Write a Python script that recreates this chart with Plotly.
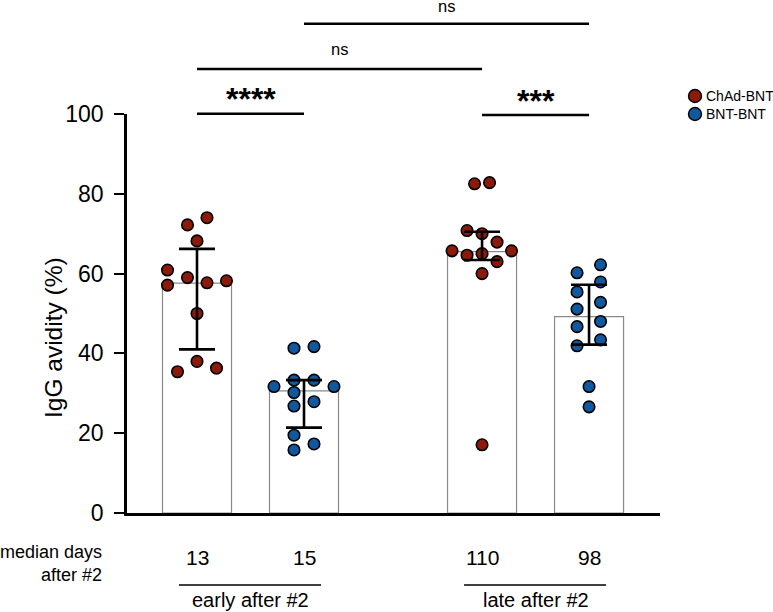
import plotly.graph_objects as go

# ---------------- data ----------------
groups = ["ChAd-BNT early", "BNT-BNT early", "ChAd-BNT late", "BNT-BNT late"]
cohorts = ["ChAd-BNT", "BNT-BNT", "ChAd-BNT", "BNT-BNT"]
medians = [57.6, 30.6, 65.5, 49.2]
q_upper = [66.2, 33.3, 70.5, 57.2]
q_lower = [41.0, 21.4, 63.4, 42.2]

chad_early = [74.0, 72.2, 68.2, 60.9, 57.1, 59.0, 57.7, 58.2, 50.0, 38.0, 35.4, 36.3]
bnt_early = [41.3, 41.7, 31.7, 33.3, 33.3, 31.7, 30.2, 26.8, 27.9, 19.5, 15.8, 17.3]
chad_late = [82.5, 82.8, 70.8, 70.0, 67.9, 65.7, 64.6, 65.0, 65.7, 63.0, 60.0, 17.1]
bnt_late = [62.2, 60.2, 57.9, 55.4, 52.8, 51.1, 48.0, 46.7, 43.4, 41.9, 31.7, 26.6]
values = [chad_early, bnt_early, chad_late, bnt_late]

median_days = ["13", "15", "110", "98"]
period_labels = ["early after #2", "late after #2"]
sig_labels = ["****", "***", "ns", "ns"]
y_ticks = [0, 20, 40, 60, 80, 100]

# ---------------- layout / style ----------------
W, H = 773, 612
L, R, T, B = 127, 660, 114, 513          # plot area in pixels
UNIT = 107.0                              # pixels per x unit
positions = [0.0, 1.0, 2.664, 3.664]
bar_width = 0.645
x_range = [-(197 - L) / UNIT, (R - 197) / UNIT]

# swarm offsets in pixels (layout of the dots inside each column)
swarm_px = [
    [10, -9.5, 0, -29.5, -29.5, -9.5, 10, 29.5, 0, 0, -19.5, 19.5],
    [-10, 10, -30, -10, 10, 30, -10, -10, 10, -10, -10, 10],
    [-7.5, 7.5, -15, 0, 15, -30, -15, 0, 29.5, 15, 0, 0],
    [11.5, -12, 11.5, -12, 11.5, -12, 11.5, -12, 11.5, -12, 0, 0],
]

colors = {"ChAd-BNT": "#8C1A0B", "BNT-BNT": "#11599F"}
FONT = "Liberation Sans, Arial, Helvetica, sans-serif"


def py(p):
    return (B - p) / (B - T)


def pxp(p):
    return (p - L) / (R - L)


fig = go.Figure()

fig.add_trace(go.Bar(
    x=positions, y=medians, width=bar_width,
    marker=dict(color="white", line=dict(color="#8a8a8a", width=1.2)),
    hoverinfo="skip", showlegend=False,
))

for i, vals in enumerate(values):
    xs = [positions[i] + o / UNIT for o in swarm_px[i]]
    fig.add_trace(go.Scatter(
        x=xs, y=vals, mode="markers", cliponaxis=False, showlegend=False,
        marker=dict(size=11.5, color=colors[cohorts[i]],
                    line=dict(color="black", width=1.6)),
        name=groups[i],
    ))

# error bars (median with IQR) drawn above the dots
fig.add_trace(go.Scatter(
    x=positions, y=medians, mode="markers", showlegend=False,
    marker=dict(size=0.1, color="rgba(0,0,0,0)"), hoverinfo="skip",
    error_y=dict(type="data", symmetric=False,
                 array=[u - m for u, m in zip(q_upper, medians)],
                 arrayminus=[m - l for l, m in zip(q_lower, medians)],
                 color="black", thickness=2.6, width=18),
))

shapes = []
annotations = []

# significance brackets: (from, to, line pixel y, text pixel y, label, size, bold)
brackets = [
    (0, 1, 113.7, 99, sig_labels[0], 32, True),
    (2, 3, 115.0, 101, sig_labels[1], 32, True),
    (0, 2, 69.0, 49, sig_labels[2], 16.5, False),
    (1, 3, 23.7, 6, sig_labels[3], 16.5, False),
]
for a, b, ly, ty, lab, fs, bold in brackets:
    shapes.append(dict(type="line", xref="x", yref="paper",
                       x0=positions[a], x1=positions[b], y0=py(ly), y1=py(ly),
                       line=dict(color="black", width=2.6)))
    annotations.append(dict(xref="x", yref="paper",
                            x=(positions[a] + positions[b]) / 2, y=py(ty),
                            text=f"<b>{lab}</b>" if bold else lab,
                            showarrow=False, xanchor="center", yanchor="middle",
                            font=dict(size=fs, color="black", family=FONT)))

# median days row
annotations.append(dict(xref="paper", yref="paper", x=pxp(104), y=py(563),
                        text="median days<br>after #2", showarrow=False,
                        xanchor="right", yanchor="middle", align="right",
                        font=dict(size=18, color="black", family=FONT)))
for i, d in enumerate(median_days):
    annotations.append(dict(xref="x", yref="paper", x=positions[i], y=py(557),
                            text=d, showarrow=False, xanchor="center",
                            yanchor="middle",
                            font=dict(size=21, color="black", family=FONT)))

# period underlines + labels
for k, lab in enumerate(period_labels):
    a, b = positions[2 * k], positions[2 * k + 1]
    shapes.append(dict(type="line", xref="x", yref="paper",
                       x0=a - 18 / UNIT, x1=b + 17 / UNIT, y0=py(585), y1=py(585),
                       line=dict(color="black", width=1.6)))
    annotations.append(dict(xref="x", yref="paper", x=(a + b) / 2, y=py(600),
                            text=lab, showarrow=False, xanchor="center",
                            yanchor="middle",
                            font=dict(size=20, color="black", family=FONT)))

# y axis title
annotations.append(dict(xref="paper", yref="paper", x=pxp(53), y=py(338),
                        text="IgG avidity (%)", textangle=-90, showarrow=False,
                        xanchor="center", yanchor="middle",
                        font=dict(size=24.5, color="black", family=FONT)))

# legend (manual)
for j, (name, ly) in enumerate([("ChAd-BNT", 96), ("BNT-BNT", 114)]):
    shapes.append(dict(type="circle", xref="paper", yref="paper",
                       xsizemode="pixel", ysizemode="pixel",
                       xanchor=pxp(695), yanchor=py(ly),
                       x0=-6.5, x1=6.5, y0=-6.5, y1=6.5,
                       fillcolor=colors[name], line=dict(color="black", width=1.4)))
    annotations.append(dict(xref="paper", yref="paper", x=pxp(704), y=py(ly),
                            text=name, showarrow=False, xanchor="left",
                            yanchor="middle",
                            font=dict(size=14, color="black", family=FONT)))

fig.update_layout(
    width=W, height=H,
    margin=dict(l=L, r=W - R, t=T, b=H - B, pad=0),
    plot_bgcolor="white", paper_bgcolor="white",
    font=dict(family=FONT, color="black"),
    showlegend=False,
    shapes=shapes, annotations=annotations,
    xaxis=dict(range=x_range, showline=True, linecolor="black", linewidth=2.6,
               showticklabels=False, ticks="", showgrid=False, zeroline=False,
               fixedrange=True),
    yaxis=dict(range=[0, 100], tickvals=y_ticks, showline=True,
               linecolor="black", linewidth=2.6, ticks="outside", ticklen=10,
               tickwidth=2, tickcolor="black", showgrid=False, zeroline=False,
               tickfont=dict(size=23, color="black", family=FONT),
               ticklabelstandoff=6, fixedrange=True),
)

fig.write_html(
    "out.html",
    config={"displayModeBar": False},
    post_script="document.body.style.margin='0';document.body.style.padding='0';"
                "document.body.style.overflow='hidden';",
)
